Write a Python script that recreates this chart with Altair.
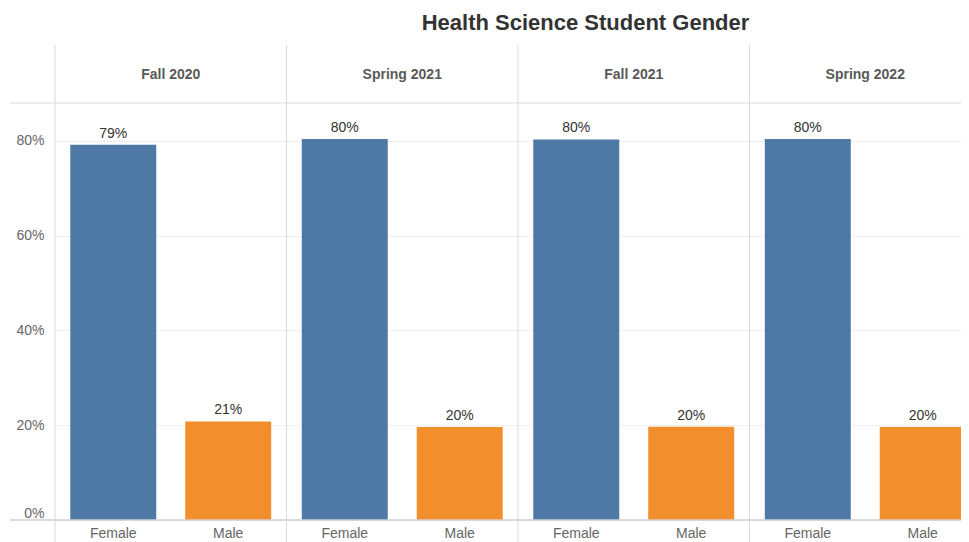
import altair as alt
import pandas as pd

terms = ["Fall 2020", "Spring 2021", "Fall 2021", "Spring 2022"]
genders = ["Female", "Male"]
female_share = [0.792, 0.804, 0.803, 0.804]
male_share = [0.208, 0.196, 0.197, 0.196]

rows = []
for t, f, m in zip(terms, female_share, male_share):
    rows.append({"term": t, "gender": "Female", "share": f})
    rows.append({"term": t, "gender": "Male", "share": m})
df = pd.DataFrame(rows)
df_terms = pd.DataFrame({"term": terms})
one = pd.DataFrame({"a": [0]})

W, H = 926, 417
FONT = "Liberation Sans"

x_enc = alt.X("term:N", sort=terms, axis=None,
              scale=alt.Scale(paddingInner=0, paddingOuter=0))
xo_enc = alt.XOffset("gender:N", sort=genders,
                     scale=alt.Scale(paddingInner=0.252, paddingOuter=0.133))

bars = alt.Chart(df).mark_bar().encode(
    x=x_enc,
    xOffset=xo_enc,
    y=alt.Y("share:Q",
            scale=alt.Scale(domain=[0, 0.88], nice=False, zero=True),
            axis=alt.Axis(values=[0, 0.2, 0.4, 0.6, 0.8], format=".0%", title=None,
                          domain=False, ticks=False, labelPadding=11,
                          grid=True, gridColor="#efefef", labelColor="#666666",
                          labelFontSize=14, labelFont=FONT,
                          labelBaseline=alt.condition("datum.value == 0",
                                                      alt.value("bottom"),
                                                      alt.value("middle")))),
    color=alt.Color("gender:N", sort=genders, legend=None,
                    scale=alt.Scale(domain=genders, range=["#4e79a7", "#f28e2b"])),
)

labels = alt.Chart(df).mark_text(baseline="alphabetic", dy=-7, fontSize=14,
                                 color="#333333", font=FONT).encode(
    x=alt.X("term:N", sort=terms),
    xOffset=alt.XOffset("gender:N", sort=genders),
    y="share:Q",
    text=alt.Text("share:Q", format=".0%"),
)

xlabels = alt.Chart(df).mark_text(baseline="alphabetic", fontSize=14,
                                  color="#666666", font=FONT).encode(
    x=alt.X("term:N", sort=terms),
    xOffset=alt.XOffset("gender:N", sort=genders),
    y=alt.value(435),
    text="gender:N",
)

headers = alt.Chart(df_terms).mark_text(baseline="alphabetic", fontSize=14,
                                        fontWeight="bold", color="#595959",
                                        font=FONT).encode(
    x=alt.X("term:N", sort=terms),
    y=alt.value(-24),
    text="term:N",
)

separators = alt.Chart(df_terms).mark_rule(color="#d9d9d9", strokeWidth=1).encode(
    x=alt.X("term:N", sort=terms, bandPosition=0),
    y=alt.value(-58),
    y2=alt.value(439),
)

top_line = alt.Chart(one).mark_rule(color="#e6e6e6", strokeWidth=1.5).encode(
    x=alt.value(-45), x2=alt.value(W), y=alt.value(0),
)
bottom_line = alt.Chart(one).mark_rule(color="#d0d0d0", strokeWidth=1.5).encode(
    x=alt.value(-45), x2=alt.value(W), y=alt.value(H),
)

chart = alt.layer(
    bars, top_line, bottom_line, separators, labels, xlabels, headers
).properties(
    width=W,
    height=H,
    title=alt.TitleParams("Health Science Student Gender", fontSize=22,
                          fontWeight="bold", color="#333333", font=FONT,
                          anchor="middle", frame="group", dx=67.5, offset=10),
    autosize=alt.AutoSizeParams(type="none"),
    padding={"left": 47, "top": 95, "right": -20, "bottom": 22},
).configure(font=FONT).configure_view(stroke=None)

chart.save("out.html", embed_options={"renderer": "svg", "actions": False})
